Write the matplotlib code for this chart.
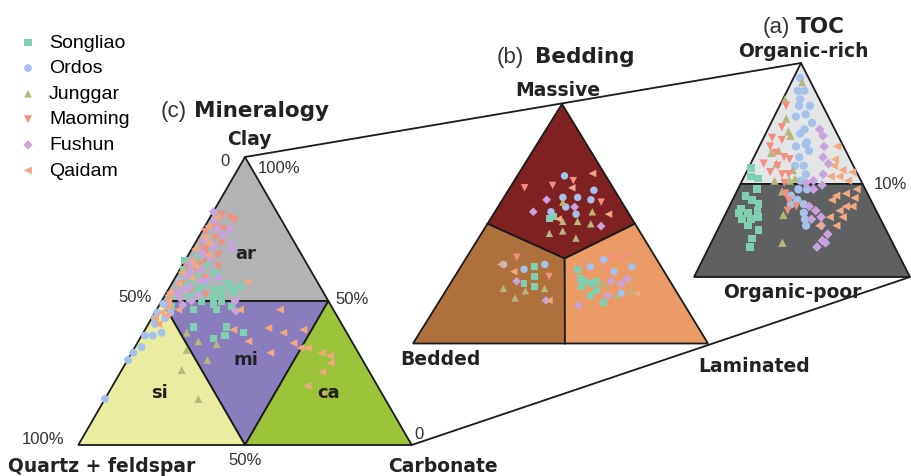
import numpy as np
import matplotlib

matplotlib.use("Agg")

import matplotlib.pyplot as plt
from matplotlib.patches import Polygon

# ==================================================
# BASINS
# ==================================================

BASINS = ["Songliao", "Ordos", "Junggar", "Maoming", "Fushun", "Qaidam"]
COLORS = ["#80cfb1", "#a5c2ec", "#b6b77b", "#f58e7e", "#c9a3dd", "#f2a982"]
MARKERS = ["s", "o", "^", "v", "D", "<"]
SIZES = [28, 32, 32, 32, 22, 32]

# ==================================================
# (c) MINERALOGY: (clay %, carbonate %), quartz + feldspar = rest
# ==================================================

MIN_SONGLIAO = [(64, 0), (61, 1), (63, 7), (56, 10), (56, 17), (54, 19),
                (54, 16), (51, 15), (52, 12), (58, 13), (57, 6), (53, 9),
                (50, 18), (55, 21), (59, 4), (52, 3), (60, 11), (66, 3),
                (47, 11), (47, 18), (41, 14), (41, 24), (39, 30), (37, 22),
                (38, 25), (48, 4), (49, 16), (60, 6), (57.5, 7), (54, 14),
                (53, 20), (52, 17), (50, 12), (51, 8), (56, 3.5), (48, 22),
                (54, 9)]
MIN_ORDOS = [(39, 5.5), (38, 3.3), (38, 1), (34, 2), (32, 0.5), (29.5, 0.2),
             (16, 0), (49, 1), (46, 4.6), (44, 4), (46, 0.7), (44, 1),
             (57, 2), (42, 2), (48, 3)]
MIN_JUNGGAR = [(36, 18), (35, 24), (39, 13), (33, 16), (29.5, 24), (26, 18),
               (16, 28)]
MIN_MAOMING = [(80, 3), (79, 6), (78, 8), (76, 3), (72, 5), (70, 8), (68, 4),
               (66, 9), (64, 6), (62, 11), (60, 5), (58, 9), (56, 3), (54, 7),
               (52, 12), (70, 2), (74, 1), (75, 6), (62, 1.5), (62.5, 5),
               (66, 5)]
MIN_FUSHUN = [(81, 0), (75, 8), (68, 12), (50, 22), (46.5, 24), (78, 2),
              (75, 4), (73, 7), (71, 2), (69, 6), (67, 3), (65, 7), (63, 2),
              (61, 6), (59, 3), (57, 8), (55, 6), (53, 3), (51, 5), (50, 9),
              (52, 10), (58, 13), (70, 11), (57, 10), (54, 5), (60, 4),
              (66, 4.5), (48.6, 7)]
MIN_QAIDAM = [(47, 37), (40, 26.5), (40.6, 36.7), (39, 42), (40, 47.5),
              (35.4, 46.8), (33.7, 49.8), (33.7, 52), (32, 41.6), (32, 57),
              (31, 60), (28.5, 61.4), (25.3, 60.5), (20.5, 58.5),
              (17.4, 64), (56.6, 22.4), (47, 6.5), (36, 33), (47, 25),
              (44, 1), (46, 2), (48, 3), (50, 2), (53, 1), (56, 2), (60, 1),
              (64, 2), (68, 1), (72, 2), (76, 1), (79, 2), (62, 4), (58, 5),
              (66, 6), (70, 4), (42, 3), (45, 4), (52, 1)]

# ==================================================
# (b) BEDDING: (massive %, laminated %), bedded = rest
# ==================================================

BED_SONGLIAO = [(52, 20), (53, 21), (32, 25), (28, 27), (25, 25), (24, 29),
                (31, 40), (27, 43), (26, 45), (25, 48), (26, 49), (24, 45),
                (22, 51), (20, 50), (17, 56)]
BED_ORDOS = [(70, 16), (61, 20), (61, 25), (64, 29), (60, 30), (57, 23),
             (55, 19), (54, 28), (33, 14), (31, 22), (33, 28), (35, 47),
             (32, 44), (30, 53), (32, 58), (21, 60)]
BED_JUNGGAR = [(59, 21), (55, 33), (51, 30), (50, 35), (47, 27), (46, 23),
               (44, 33), (51, 25), (23, 19), (19, 25), (22, 27), (23, 33),
               (25, 52), (20, 59), (22, 63)]
BED_MAOMING = [(65, 5), (66, 14), (68, 20), (59, 34), (36, 17), (28, 32),
               (36, 49), (35, 53), (37, 54), (30, 51)]
BED_FUSHUN = [(60, 15), (55, 13), (57, 26), (49, 39), (26, 22), (18, 36),
              (26, 54), (25, 58), (27, 59), (20, 56), (16, 48)]
BED_QAIDAM = [(71, 25), (65, 21), (54, 39), (52, 23), (33, 13), (30, 19),
              (18, 37), (21, 65)]

# ==================================================
# (a) TOC: (organic-rich %, lateral %), remainder to the left
# ==================================================

TOC_SONGLIAO = [(51, 1), (47, 3), (46, 7), (41, 9), (38, 5), (36, 9),
                (34, 13), (32, 6), (30, 10), (31, 14), (27, 9), (27, 13),
                (28, 16), (24, 13), (22, 19), (18, 18), (14, 19), (30, 6)]
TOC_ORDOS = [(93, 3), (87, 5), (87, 8), (83, 8), (80, 14), (80, 9), (76, 14),
             (75, 10), (72, 19), (69, 17), (67, 16), (63, 21), (62, 21),
             (61, 17), (59, 24), (56, 21), (52, 25), (52, 21), (48, 28),
             (45, 27), (41, 28), (41, 32), (38, 26), (36, 30), (34, 34),
             (34, 28), (30, 36), (27, 38), (24, 40)]
TOC_JUNGGAR = [(91, 5), (83, 1), (74, 6), (68, 10), (66, 12), (58, 7),
               (59, 10), (53, 12), (50, 21), (45, 15), (45, 22), (46, 24),
               (40, 21), (29, 27), (16, 33)]
TOC_MAOMING = [(80, 3), (70, 6), (65, 4), (64, 9), (61, 5), (58, 9),
               (56, 14), (53, 6), (52, 13), (55, 17), (49, 11), (48, 17),
               (48, 20), (44, 20), (39, 23), (36, 26), (33, 31), (31, 28)]
TOC_FUSHUN = [(69, 24), (66, 27), (61, 30), (56, 32), (53, 36), (48, 36),
              (45, 33), (43, 38), (41, 35), (33, 37), (31, 41), (28, 45),
              (27, 41), (24, 47), (20, 52), (17, 51), (14, 50), (16, 53),
              (44, 30)]
TOC_QAIDAM = [(61, 36), (55, 38), (52, 39), (50, 44), (49, 49), (47, 44),
              (47, 40), (45, 49), (41, 55), (39, 51), (38, 47), (37, 56),
              (36, 46), (33, 54), (31, 52), (33, 57), (28, 49), (28, 55),
              (24, 54), (24, 46)]

MINERALOGY = [MIN_SONGLIAO, MIN_ORDOS, MIN_JUNGGAR, MIN_MAOMING, MIN_FUSHUN, MIN_QAIDAM]
BEDDING = [BED_SONGLIAO, BED_ORDOS, BED_JUNGGAR, BED_MAOMING, BED_FUSHUN, BED_QAIDAM]
TOC = [TOC_SONGLIAO, TOC_ORDOS, TOC_JUNGGAR, TOC_MAOMING, TOC_FUSHUN, TOC_QAIDAM]

# ==================================================
# TRIANGLE GEOMETRY (top, left, right corners, canvas pixels)
# ==================================================

MIN_TRI = [(245, 157), (78.3, 445), (411.7, 445)]
BED_TRI = [(562, 104), (413, 343.5), (708, 343.5)]
TOC_TRI = [(801, 63), (694, 277), (910, 277)]

TOC_SPLIT = 43.5          # organic-rich / organic-poor boundary (10% TOC)
BED_CENTER = (35.5, 33.5)  # junction of the three bedding fields


def to_xy(points, tri):
    top, left, right = (np.array(v, float) for v in tri)
    p = np.asarray(points, float) / 100.0
    a = p[:, 0:1]
    c = p[:, 1:2]
    b = 1.0 - a - c
    xy = a * top + b * left + c * right
    return xy[:, 0], xy[:, 1]


def field(ax, corners, tri, color):
    x, y = to_xy(corners, tri)
    ax.add_patch(Polygon(np.column_stack([x, y]), closed=True,
                         facecolor=color, edgecolor="#1a1a1a",
                         linewidth=1.3, zorder=2))


# ==================================================
# CREATE FIGURE
# ==================================================

fig = plt.figure(figsize=(9.11, 4.76), dpi=100)
ax = fig.add_axes([0, 0, 1, 1])
ax.set_xlim(0, 911)
ax.set_ylim(476, 0)
ax.axis("off")

# lines joining the three diagrams
for i in (0, 2):
    ax.plot([MIN_TRI[i][0], TOC_TRI[i][0]], [MIN_TRI[i][1], TOC_TRI[i][1]],
            color="#1a1a1a", linewidth=1.3, zorder=1)

# mineralogy fields
field(ax, [(100, 0), (50, 0), (50, 50)], MIN_TRI, "#b1b3b4")
field(ax, [(50, 0), (50, 50), (0, 50)], MIN_TRI, "#8a7dbe")
field(ax, [(50, 0), (0, 50), (0, 0)], MIN_TRI, "#eaeca1")
field(ax, [(50, 50), (0, 100), (0, 50)], MIN_TRI, "#9bc43b")

# bedding fields
field(ax, [(100, 0), (50, 0), BED_CENTER, (50, 50)], BED_TRI, "#7f2123")
field(ax, [(0, 0), (50, 0), BED_CENTER, (0, 51.5)], BED_TRI, "#b0703b")
field(ax, [(0, 100), (50, 50), BED_CENTER, (0, 51.5)], BED_TRI, "#ea9b66")

# TOC fields
field(ax, [(100, 0), (TOC_SPLIT, 0), (TOC_SPLIT, 100 - TOC_SPLIT)], TOC_TRI, "#e4e5e7")
field(ax, [(TOC_SPLIT, 0), (0, 0), (0, 100), (TOC_SPLIT, 100 - TOC_SPLIT)], TOC_TRI, "#5f6062")

# ==================================================
# SAMPLES
# ==================================================

handles = []
for name, col, mk, s, pm, pb, pt in zip(BASINS, COLORS, MARKERS, SIZES,
                                        MINERALOGY, BEDDING, TOC):
    x, y = to_xy(pm, MIN_TRI)
    h = ax.scatter(x, y, s=s, marker=mk, color=col, edgecolors="none",
                   zorder=3, label=name)
    handles.append(h)
    x, y = to_xy(pb, BED_TRI)
    ax.scatter(x, y, s=s * 0.9, marker=mk, color=col, edgecolors="none", zorder=3)
    x, y = to_xy(pt, TOC_TRI)
    ax.scatter(x, y, s=s * 1.1, marker=mk, color=col, edgecolors="none", zorder=3)

# ==================================================
# TEXT
# ==================================================

BOLD = dict(family="DejaVu Sans", weight="bold", color="#222222")
REG = dict(family="Liberation Sans", color="#333333")

# titles
ax.text(187, 117, "(c)", fontsize=16, ha="right", va="baseline", **REG)
ax.text(194, 117, "Mineralogy", fontsize=15.5, ha="left", va="baseline", **BOLD)
ax.text(524, 63, "(b)", fontsize=16, ha="right", va="baseline", **REG)
ax.text(535, 63, "Bedding", fontsize=15.5, ha="left", va="baseline", **BOLD)
ax.text(790, 33, "(a)", fontsize=16, ha="right", va="baseline", **REG)
ax.text(796, 33, "TOC", fontsize=15.5, ha="left", va="baseline", **BOLD)

# mineralogy labels
ax.text(249, 145, "Clay", fontsize=13.5, ha="center", va="baseline", **BOLD)
ax.text(8, 472, "Quartz + feldspar", fontsize=13.5, ha="left", va="baseline", **BOLD)
ax.text(443, 472, "Carbonate", fontsize=13.5, ha="center", va="baseline", **BOLD)
ax.text(225, 166, "0", fontsize=12, ha="center", va="baseline", **REG)
ax.text(258, 173, "100%", fontsize=12, ha="left", va="baseline", **REG)
ax.text(118, 302, "50%", fontsize=12, ha="left", va="baseline", **REG)
ax.text(335, 304, "50%", fontsize=12, ha="left", va="baseline", **REG)
ax.text(22, 444, "100%", fontsize=12, ha="left", va="baseline", **REG)
ax.text(228, 465, "50%", fontsize=12, ha="left", va="baseline", **REG)
ax.text(414, 439, "0", fontsize=12, ha="left", va="baseline", **REG)
for lab, (px, py) in zip(["ar", "mi", "si", "ca"],
                         [(246, 254), (246, 360), (160, 393), (329, 393)]):
    ax.text(px, py, lab, fontsize=13, ha="center", va="center",
            zorder=4, **BOLD)

# bedding labels
ax.text(558, 96, "Massive", fontsize=13.5, ha="center", va="baseline", **BOLD)
ax.text(400, 365, "Bedded", fontsize=13.5, ha="left", va="baseline", **BOLD)
ax.text(698, 372, "Laminated", fontsize=13.5, ha="left", va="baseline", **BOLD)

# TOC labels
ax.text(803, 57, "Organic-rich", fontsize=13.5, ha="center", va="baseline", **BOLD)
ax.text(792, 298, "Organic-poor", fontsize=13.5, ha="center", va="baseline", **BOLD)
ax.text(874, 189, "10%", fontsize=12, ha="left", va="baseline", **REG)

# legend
ax.legend(handles=handles, loc="upper left",
          bbox_to_anchor=(18.3 / 911, 1 - 34 / 476),
          frameon=False, borderpad=0, borderaxespad=0,
          handlelength=1.0, handletextpad=0.58, labelspacing=0.41,
          scatterpoints=1, markerscale=1.0,
          prop=dict(family="Liberation Sans", size=14))

fig.savefig("out.png", dpi=100)
plt.close(fig)
